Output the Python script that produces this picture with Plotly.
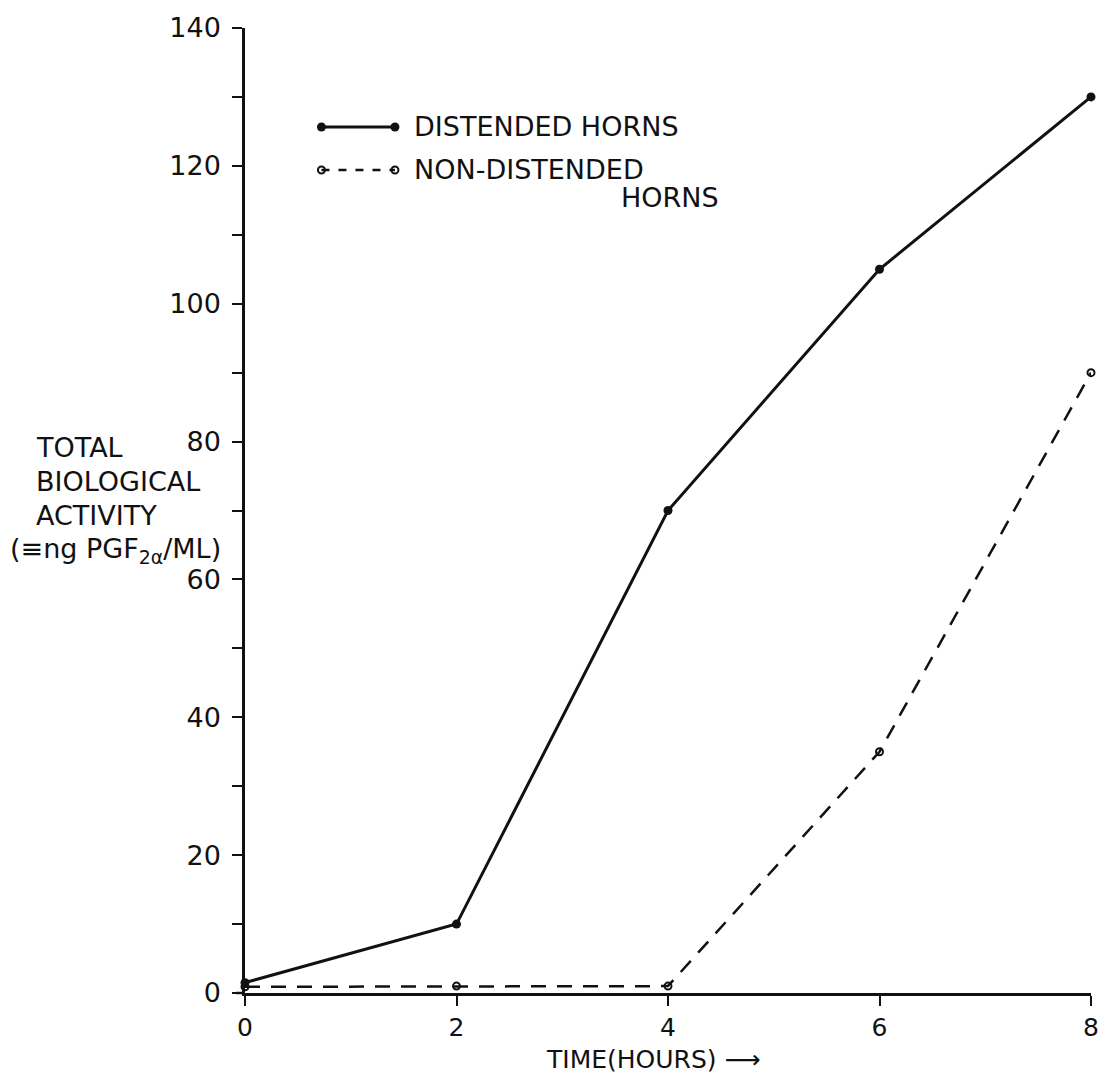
import plotly.graph_objects as go

# Data
hours = [0, 2, 4, 6, 8]
distended = [1.5, 10, 70, 105, 130]
non_distended = [0.9, 1, 1, 35, 90]

x_ticks = [0, 2, 4, 6, 8]
y_ticks = [0, 20, 40, 60, 80, 100, 120, 140]

FONT = "DejaVu Sans"
INK = "#111111"

fig = go.Figure()

fig.add_trace(go.Scatter(
    x=hours, y=distended, mode="lines+markers", name="DISTENDED HORNS",
    line=dict(color=INK, width=3),
    marker=dict(symbol="circle", size=9, color=INK),
    cliponaxis=False, showlegend=False,
))
fig.add_trace(go.Scatter(
    x=hours, y=non_distended, mode="lines+markers", name="NON-DISTENDED HORNS",
    line=dict(color=INK, width=2.5, dash="15px,11px"),
    marker=dict(symbol="circle-open", size=7, color=INK, line=dict(width=2, color=INK)),
    cliponaxis=False, showlegend=False,
))

L, R, T, B = 245, 14, 28, 85
W, H = 1111, 1078
pw, ph = W - L - R, H - T - B

def px(xp):
    return (xp - L) / pw

def py(yp):
    return (H - B - yp) / ph

# Custom legend (drawn in paper coordinates) and short axis overhang
shapes = []
y1, y2 = py(127), py(170)
xa, xb = px(322), px(396)
shapes.append(dict(type="line", xref="paper", yref="paper", x0=xa, x1=xb, y0=y1, y1=y1,
                   line=dict(color=INK, width=3)))
shapes.append(dict(type="line", xref="paper", yref="paper", x0=xa, x1=xb, y0=y2, y1=y2,
                   line=dict(color=INK, width=2.5, dash="8px,9px")))
shapes.append(dict(type="line", xref="paper", yref="paper", x0=px(236), x1=0, y0=0, y1=0,
                   line=dict(color=INK, width=2.5)))
fig.update_layout(shapes=shapes)

fig.add_trace(go.Scatter(
    x=[xa, xb], y=[y1, y1], xaxis="x2", yaxis="y2", mode="markers",
    marker=dict(symbol="circle", size=9, color=INK), showlegend=False, hoverinfo="skip",
    cliponaxis=False,
))
fig.add_trace(go.Scatter(
    x=[xa, xb], y=[y2, y2], xaxis="x2", yaxis="y2", mode="markers",
    marker=dict(symbol="circle", size=7, color="white", line=dict(width=2, color=INK)),
    showlegend=False, hoverinfo="skip", cliponaxis=False,
))

ann_font = dict(family=FONT, size=27, color=INK)
annotations = [
    dict(text="DISTENDED HORNS", x=px(413), y=y1, xanchor="left", yanchor="middle"),
    dict(text="NON-DISTENDED", x=px(413), y=y2, xanchor="left", yanchor="middle"),
    dict(text="HORNS", x=px(724), y=py(198), xanchor="right", yanchor="middle"),
    dict(text="TOTAL", x=px(33), y=py(447), xanchor="left", yanchor="middle"),
    dict(text="BIOLOGICAL", x=px(33), y=py(482), xanchor="left", yanchor="middle"),
    dict(text="ACTIVITY", x=px(33), y=py(515), xanchor="left", yanchor="middle"),
    dict(text="(≡ng PGF<sub>2α</sub>/ML)", x=px(6), y=py(550), xanchor="left", yanchor="middle"),
    dict(text="TIME(HOURS) ⟶", x=px(546), y=py(1059), xanchor="left", yanchor="middle",
         font=dict(family=FONT, size=25, color=INK)),
]
for a in annotations:
    a.update(xref="paper", yref="paper", showarrow=False)
    a.setdefault("font", ann_font)
fig.update_layout(annotations=annotations)

fig.update_layout(
    width=W, height=H,
    margin=dict(l=L, r=R, t=T, b=B, pad=0),
    paper_bgcolor="white", plot_bgcolor="white",
    font=dict(family=FONT, size=27, color=INK),
    xaxis=dict(
        range=[0, 8], tickmode="array", tickvals=x_ticks, ticktext=[str(v) for v in x_ticks],
        showline=True, linecolor=INK, linewidth=2.5, showgrid=False, zeroline=False,
        ticks="outside", ticklen=10, tickwidth=2, tickcolor=INK,
        tickfont=dict(family=FONT, size=25, color=INK),
    ),
    yaxis=dict(
        range=[0, 140], tickmode="array", tickvals=y_ticks, ticktext=[str(v) for v in y_ticks],
        showline=True, linecolor=INK, linewidth=2.5, showgrid=False, zeroline=False,
        ticks="outside", ticklen=10, tickwidth=2, tickcolor=INK,
        ticklabelstandoff=6,
        tickfont=dict(family=FONT, size=27, color=INK),
        minor=dict(dtick=10, tick0=0, ticks="outside", ticklen=10, tickwidth=2, tickcolor=INK, showgrid=False),
    ),
    xaxis2=dict(range=[0, 1], domain=[0, 1], overlaying="x", visible=False, fixedrange=True),
    yaxis2=dict(range=[0, 1], domain=[0, 1], overlaying="y", visible=False, fixedrange=True, anchor="x2"),
)

fig.write_html("out.html")
